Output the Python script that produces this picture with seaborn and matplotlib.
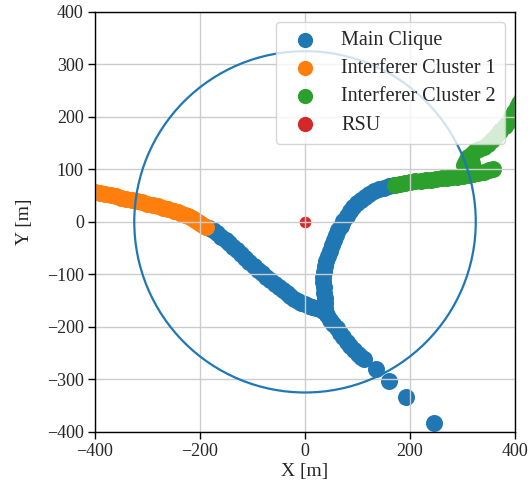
import pandas as pd
import matplotlib
matplotlib.use("Agg")
import matplotlib.pyplot as plt
import seaborn as sns

# positions (m)
main_x = [-183, -175, -167, -159, -151, -144, -137, -130, -122, -114, -106, -98, -90, -82, -74,
          -66, -58, -50, -42, -35, -28, -21, -14, -7, 0, 7, 14, 21, 28, 35, 42,
          48, 54, 60, 66, 72, 79, 86, 93, 100, 107, 112,
          136, 159, 192, 246,
          38, 38, 38, 37, 36, 35, 35, 36, 38, 40, 43, 47, 51, 55, 59, 63, 68, 73, 79, 85,
          92, 99, 106, 114, 122, 131, 140, 150, 160, 170]
main_y = [-11, -16, -22, -28, -35, -41, -47, -54, -61, -69, -76, -84, -91, -98, -105,
          -111, -118, -124, -130, -136, -141, -146, -150, -154, -157, -160, -162, -164, -166, -170, -178,
          -186, -194, -203, -211, -220, -229, -237, -244, -251, -257, -261,
          -281, -304, -334, -383,
          -165, -155, -145, -135, -125, -115, -105, -95, -85, -75, -65, -55, -45, -35, -25, -16, -7, 2, 11, 20,
          28, 35, 42, 48, 53, 58, 62, 65, 68, 70]

interf1_x = [-410, -400, -390, -380, -370, -360, -350, -340, -330, -320, -310, -300, -290, -280,
             -270, -260, -250, -242, -235, -228, -222, -216, -210, -204, -198, -192, -188]
interf1_y = [59, 57, 55, 53, 51, 48.5, 46, 44, 41.5, 39, 37, 34.5, 32, 29.5,
             27, 24, 21, 18, 15.5, 13, 10.5, 7.5, 4, 0, -4, -7, -10]

interf2_x = [172, 180, 190, 200, 210, 220, 230, 240, 250, 260, 270, 280, 290, 300, 310, 320, 330,
             340, 350, 357,
             320, 318, 302, 306, 311, 317, 324, 332, 340, 348, 356, 364, 372, 380, 387, 393,
             398, 403, 408, 413]
interf2_y = [71, 72, 74, 75, 77, 78, 79, 80, 82, 83, 84, 85, 86, 88, 89, 91, 93,
             95, 98, 101,
             105, 113, 108, 116, 124, 130, 135, 139, 143, 149, 156, 164, 173, 182, 191, 200,
             209, 218, 227, 236]

rsu_x = [0]
rsu_y = [0]

rayon_couverture = 325

groupes = ["Main Clique", "Interferer Cluster 1", "Interferer Cluster 2", "RSU"]

df = pd.concat([
    pd.DataFrame({"x": main_x, "y": main_y, "groupe": groupes[0]}),
    pd.DataFrame({"x": interf1_x, "y": interf1_y, "groupe": groupes[1]}),
    pd.DataFrame({"x": interf2_x, "y": interf2_y, "groupe": groupes[2]}),
    pd.DataFrame({"x": rsu_x, "y": rsu_y, "groupe": groupes[3]}),
])

sns.set_theme(style="whitegrid")
plt.rcParams["font.family"] = ["Liberation Serif", "DejaVu Serif"]
plt.rcParams["axes.edgecolor"] = "black"
plt.rcParams["grid.color"] = "#cccccc"

fig = plt.figure(figsize=(5.3, 4.93), dpi=100)
ax = fig.add_axes([0.179, 0.124, 0.793, 0.852])

couleurs = sns.color_palette("tab10", 4)
tailles = {groupes[0]: 150, groupes[1]: 150, groupes[2]: 150, groupes[3]: 70}
for g, c in zip(groupes, couleurs):
    d = df[df["groupe"] == g]
    sns.scatterplot(data=d, x="x", y="y", color=c, s=tailles[g], linewidth=0,
                    label=g, ax=ax)

cercle = plt.Circle((rsu_x[0], rsu_y[0]), rayon_couverture, fill=False,
                    color=couleurs[0], lw=1.6, zorder=3)
ax.add_patch(cercle)

ax.set_xlim(-400, 400)
ax.set_ylim(-400, 400)
ax.set_xticks([-400, -200, 0, 200, 400])
ax.set_yticks(range(-400, 401, 100))
ax.set_axisbelow(False)
ax.grid(True, color="#cccccc", lw=1)
for s in ax.spines.values():
    s.set_color("black")
    s.set_linewidth(1)
    s.set_zorder(5)
ax.tick_params(axis="both", which="both", bottom=True, left=True, direction="out",
               length=5, width=1, color="black", labelsize=13, pad=3)
ax.set_xlabel("X [m]", fontsize=14, labelpad=2)
ax.set_ylabel("Y [m]", fontsize=14, labelpad=10)

leg = ax.legend(loc="upper right", fontsize=14.5, framealpha=0.8, fancybox=True,
                handletextpad=0.8, borderpad=0.45, labelspacing=0.45)
for h in leg.legend_handles:
    h.set_sizes([120])

plt.savefig("out.png", dpi=100)
